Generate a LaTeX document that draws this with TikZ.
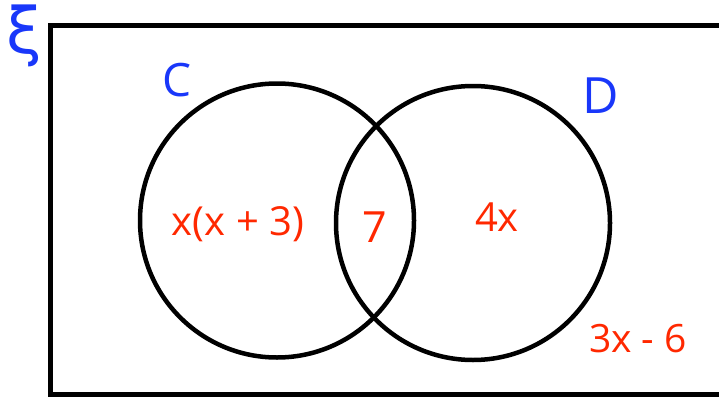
\documentclass[tikz,border=0pt]{standalone}
\usepackage{fontspec}
\setmainfont{Open Sans}
\newfontfamily\greekfont{DejaVu Sans}
\definecolor{setblue}{RGB}{25,55,250}
\definecolor{valred}{RGB}{255,40,0}
\tikzset{
  setcircle/.style={circle, draw=black, line width=4.5pt, inner sep=0pt, minimum size=274pt},
  setlabel/.style={text=setblue, inner sep=0pt},
  vallabel/.style={text=valred, inner sep=0pt},
}
\begin{document}
\begin{tikzpicture}[x=1pt,y=-1pt]
\useasboundingbox (0,0) rectangle (719,396);
\clip (0,0) rectangle (719,396);
\fill[white] (0,0) rectangle (719,396);
\draw[line width=5pt] (760,25.5) -- (50.5,25.5) -- (50.5,394) -- (760,394);
\node[setcircle] (C) at (277,220.5) {};
\node[setcircle] (D) at (473,223) {};
\node[setlabel, font=\greekfont\fontsize{64}{64}\selectfont] (xi) at (24,36) {ξ};
\node[setlabel, font=\fontsize{46}{46}\selectfont] (lc) at (177,80) {C};
\node[setlabel, font=\fontsize{50}{50}\selectfont] (ld) at (601,96) {D};
\node[vallabel, font=\fontsize{40}{40}\selectfont] (a) at (238,224) {x(x + 3)};
\node[vallabel, font=\fontsize{43}{43}\selectfont] (b) at (375,227) {7};
\node[vallabel, font=\fontsize{40}{40}\selectfont] (c) at (497,217) {4x};
\node[vallabel, font=\fontsize{39}{39}\selectfont] (d) at (638,339) {3x - 6};
\end{tikzpicture}
\end{document}
